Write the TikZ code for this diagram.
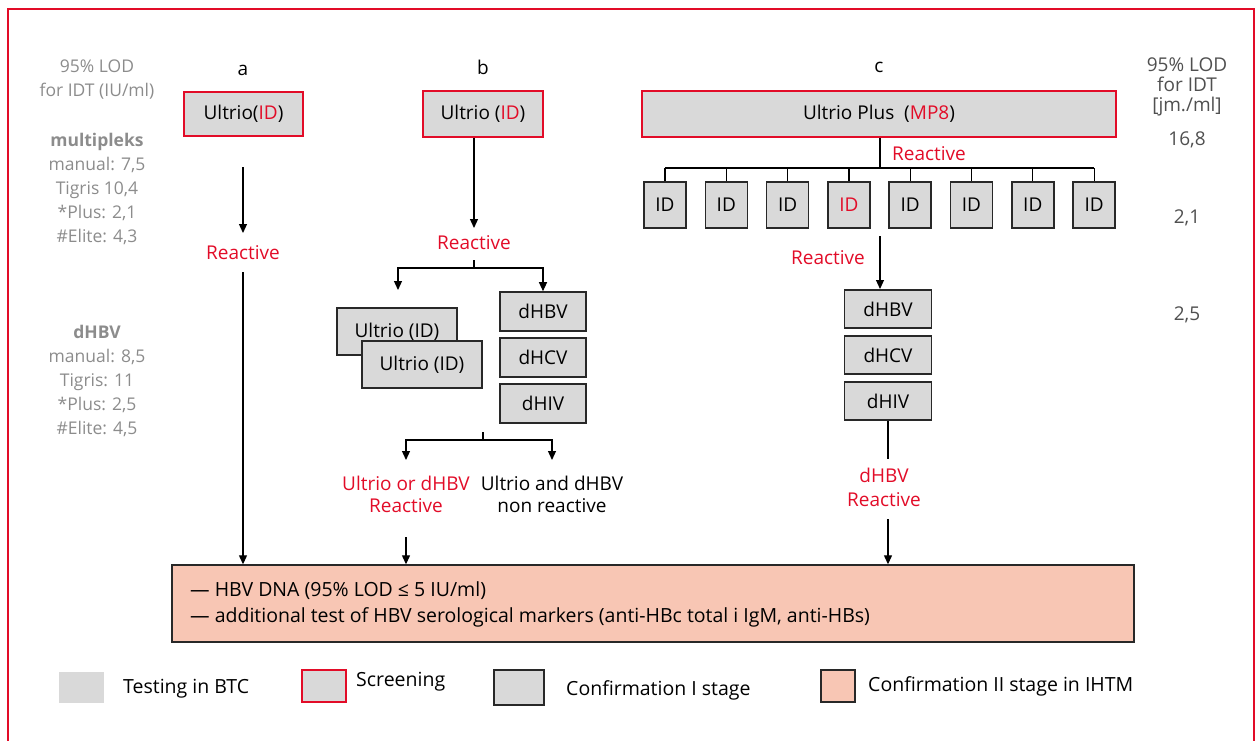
\documentclass[tikz,border=0pt]{standalone}
\usepackage{fontspec}
\setmainfont{Open Sans}
\usetikzlibrary{arrows.meta}
\definecolor{cred}{RGB}{226,12,40}
\definecolor{boxgray}{RGB}{217,217,217}
\definecolor{salmon}{RGB}{248,198,180}
\definecolor{ltxt}{RGB}{140,140,140}
\definecolor{rtxt}{RGB}{80,80,80}
\definecolor{bord}{RGB}{40,40,40}
\begin{document}
\begin{tikzpicture}[x=1pt,y=-1pt,
  every node/.style={font=\fontsize{19}{22}\selectfont, inner sep=0pt},
  screenbox/.style={draw=cred, fill=boxgray, line width=1.6pt},
  confbox/.style={draw=bord, fill=boxgray, line width=1.6pt},
  arr/.style={-{Triangle[length=9pt,width=8pt]}, line width=1.2pt, draw=black},
  ln/.style={line width=1.2pt, draw=black},
  redtxt/.style={text=cred},
  lefttxt/.style={text=ltxt, align=center, font=\fontsize{17.5}{24}\selectfont},
  righttxt/.style={text=rtxt, align=center, font=\fontsize{19}{20}\selectfont},
  legtxt/.style={anchor=west, font=\fontsize{19.5}{22}\selectfont},
]
\useasboundingbox (0,0) rectangle (1256,740);
\draw[cred, line width=1.6pt] (8,760) -- (8,9) -- (1254,9) -- (1254,760);

% left column
\node[lefttxt] (lod) at (97,80) {95\% LOD\\for IDT (IU/ml)};
\node[lefttxt] (mpx) at (97,188.5) {\textbf{multipleks}\\manual: 7,5\\Tigris 10,4\\*Plus: 2,1\\\#Elite: 4,3};
\node[lefttxt] (dhb) at (97,381) {\textbf{dHBV}\\manual: 8,5\\Tigris: 11\\*Plus: 2,5\\\#Elite: 4,5};

% right column
\node[righttxt] (rlod) at (1187,87) {95\% LOD\\for IDT\\{[jm./ml]}};
\node[righttxt] (r1) at (1187,140) {16,8};
\node[righttxt] (r2) at (1187,218) {2,1};
\node[righttxt] (r3) at (1187,315) {2,5};

% bottom box
\node[draw=bord, fill=salmon, line width=1.4pt, minimum width=962pt, minimum height=77pt] (hbv) at (653,603.5) {};
\node[anchor=west, align=left, font=\fontsize{19.5}{26}\selectfont] (hbvt) at (190,604) {— HBV DNA (95\% LOD ≤ 5 IU/ml)\\— additional test of HBV serological markers (anti-HBc total i IgM, anti-HBs)};

% column a
\node (la) at (243,70) {a};
\node[screenbox, minimum width=119pt, minimum height=44pt] (ua) at (243.5,114) {Ultrio(\textcolor{cred}{ID})};
\coordinate (a0) at (243,167);
\coordinate (a1) at (243,233);
\node[redtxt] (ra) at (243,253) {Reactive};
\coordinate (a2) at (243,272);
\draw[arr] (a0) -- (a1);
\draw[arr] (a2) -- (a2 |- hbv.north);

% column b
\node (lb) at (483,67) {b};
\node[screenbox, minimum width=120pt, minimum height=46pt] (ub) at (483,114) {Ultrio (\textcolor{cred}{ID})};
\node[redtxt] (rb) at (474,243) {Reactive};
\coordinate (b0) at (474,228);
\draw[arr] (ub.south -| b0) -- (b0);
\coordinate (b1) at (474,260);
\coordinate (b2) at (474,268);
\coordinate (b3) at (398,290);
\node[confbox, minimum width=120pt, minimum height=47pt] (u1) at (397,331.5) {Ultrio (ID)};
\node[confbox, minimum width=120pt, minimum height=47pt] (u2) at (422,364.5) {Ultrio (ID)};
\node[confbox, minimum width=86pt, minimum height=39pt] (bhbv) at (543,311.5) {dHBV};
\node[confbox, minimum width=86pt, minimum height=39pt] (bhcv) at (543,357.5) {dHCV};
\node[confbox, minimum width=86pt, minimum height=39pt] (bhiv) at (543,403.5) {dHIV};
\draw[ln] (b1) -- (b2);
\draw[arr] (b2) -| (b3);
\draw[arr] (b2) -| (bhbv.north);

\coordinate (b4) at (483,432);
\coordinate (b5) at (483,440);
\coordinate (b6) at (406,460);
\coordinate (b7) at (552,460);
\draw[ln] (b4) -- (b5);
\draw[arr] (b5) -| (b6);
\draw[arr] (b5) -| (b7);
\node[redtxt, align=center, font=\fontsize{19}{22}\selectfont] (ob) at (406,494) {Ultrio or dHBV\\Reactive};
\node[align=center, font=\fontsize{19}{22}\selectfont] (nb) at (552,494) {Ultrio and dHBV\\non reactive};
\coordinate (b8) at (406,537);
\draw[arr] (b8) -- (b8 |- hbv.north);

% column c
\node (lc) at (879,67) {c};
\node[screenbox, minimum width=474pt, minimum height=46pt] (up) at (879,114) {Ultrio Plus\ \ (\textcolor{cred}{MP8})};
\coordinate (hb) at (880,168);
\node[redtxt] (rc) at (929,154) {Reactive};
\node[confbox, minimum width=42pt, minimum height=46pt] (id0) at (665,205) {ID};
\node[confbox, minimum width=42pt, minimum height=46pt] (id1) at (726.3,205) {ID};
\node[confbox, minimum width=42pt, minimum height=46pt] (id2) at (787.6,205) {ID};
\node[confbox, minimum width=42pt, minimum height=46pt, text=cred] (id3) at (848.9,205) {ID};
\node[confbox, minimum width=42pt, minimum height=46pt] (id4) at (910.2,205) {ID};
\node[confbox, minimum width=42pt, minimum height=46pt] (id5) at (971.5,205) {ID};
\node[confbox, minimum width=42pt, minimum height=46pt] (id6) at (1032.8,205) {ID};
\node[confbox, minimum width=42pt, minimum height=46pt] (id7) at (1094.1,205) {ID};
\draw[ln] (up.south -| hb) -- (hb);
\draw[ln] (id0.north |- hb) -- (id7.north |- hb);
\foreach \i in {0,...,7} \draw[ln] (id\i.north |- hb) -- (id\i.north);

\node[redtxt] (rc2) at (828,258) {Reactive};
\coordinate (c0) at (880,236);
\coordinate (c1) at (880,289);
\draw[arr] (c0) -- (c1);
\node[confbox, minimum width=87pt, minimum height=38pt] (chbv) at (888,309) {dHBV};
\node[confbox, minimum width=87pt, minimum height=38pt] (chcv) at (888,355) {dHCV};
\node[confbox, minimum width=87pt, minimum height=38pt] (chiv) at (888,401) {dHIV};
\coordinate (c2) at (888,459);
\draw[ln] (chiv.south) -- (c2);
\node[redtxt, align=center, font=\fontsize{19}{24}\selectfont] (cr) at (884,487.5) {dHBV\\Reactive};
\coordinate (c3) at (888,519);
\draw[arr] (c3) -- (c3 |- hbv.north);

% legend
\node[fill=boxgray, minimum width=45pt, minimum height=31pt] (lg1) at (81.5,687.5) {};
\node[legtxt] (lt1) at (123,689) {Testing in BTC};
\node[draw=cred, fill=boxgray, line width=1.4pt, minimum width=44pt, minimum height=32pt] (lg2) at (324,686) {};
\node[legtxt] (lt2) at (356,682) {Screening};
\node[draw=bord, fill=boxgray, line width=1.4pt, minimum width=50pt, minimum height=35pt] (lg3) at (519,687.5) {};
\node[legtxt] (lt3) at (566,690) {Confirmation I stage};
\node[draw=bord, fill=salmon, line width=1.4pt, minimum width=34pt, minimum height=32pt] (lg4) at (838,686) {};
\node[legtxt] (lt4) at (868,686) {Confirmation II stage in IHTM};
\end{tikzpicture}
\end{document}
